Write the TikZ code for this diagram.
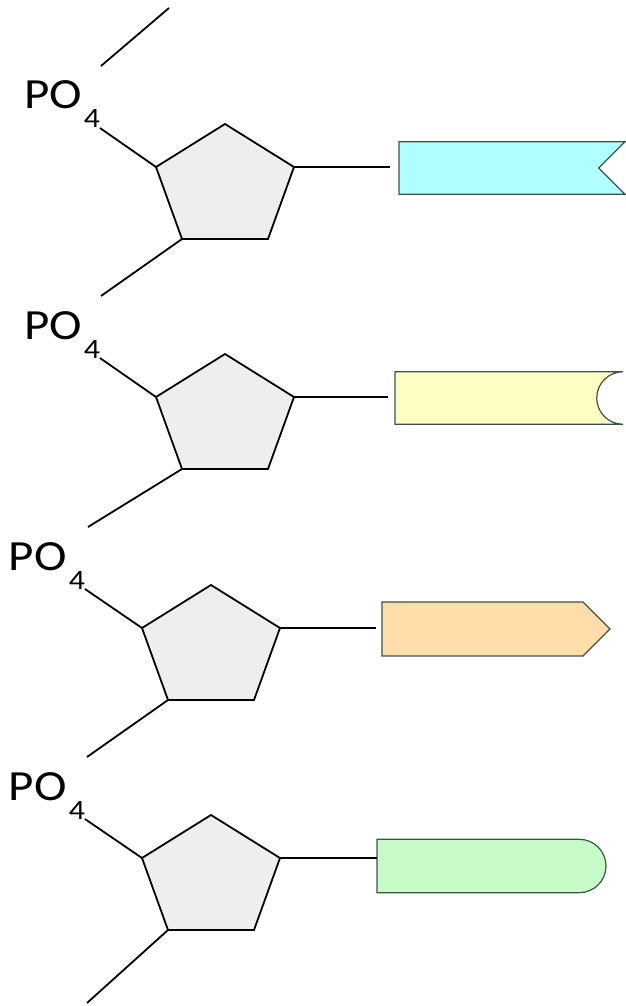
\documentclass[tikz,border=0pt]{standalone}
\usepackage{fontspec}
\setmainfont{Carlito}
\newfontfamily\phosfont[FakeStretch=1.14]{Carlito}
\usepackage{xcolor}
\usetikzlibrary{
	positioning,
	shapes.symbols,   %signal
	shapes.misc       %rounded rectangle
}
\definecolor{basedraw}{HTML}{3F5248}
\definecolor{cyanbase}{HTML}{B0FFFF}
\definecolor{yellowbase}{HTML}{FFFFC4}
\definecolor{orangebase}{HTML}{FFDDAA}
\definecolor{greenbase}{HTML}{C6FAC6}
\definecolor{sugargray}{HTML}{EEEEEE}
\tikzset{
	every picture/.style={x=1pt,y=-1pt},
	sugar/.style={draw=black,fill=sugargray,line width=1.8pt},
	bond/.style={draw=black,line width=1.8pt},
	base/.style={draw=basedraw,line width=1.2pt,inner sep=0pt,outer sep=0pt},
	phos/.style={inner sep=0pt,outer sep=0pt,anchor=base west,font=\phosfont\fontsize{43}{43}\selectfont}
}
\newcommand{\phostext}{PO\kern2pt\raisebox{-19pt}{\fontsize{28}{28}\selectfont 4}}

\begin{document}
\begin{tikzpicture}
	\useasboundingbox (0,0) rectangle (625,1006);
	\foreach \i/\x/\y in {1/225/124,2/225/354,3/211/585,4/211/815}{
		\coordinate (top\i) at (\x,\y);
		\coordinate (rt\i) at (\x+69,\y+43);
		\coordinate (br\i) at (\x+43,\y+115);
		\coordinate (bl\i) at (\x-43,\y+115);
		\coordinate (lt\i) at (\x-69,\y+43);
		\filldraw[sugar] (top\i) -- (rt\i) -- (br\i) -- (bl\i) -- (lt\i) -- cycle;
	}
	\node[phos] (po1) at (24,109) {\phostext};
	\node[phos] (po2) at (24,339) {\phostext};
	\node[phos] (po3) at (9,570) {\phostext};
	\node[phos] (po4) at (9,800) {\phostext};
	\node[base,signal,signal to=nowhere,signal from=east,fill=cyanbase,
		minimum width=226,minimum height=52.5,anchor=west] (b1) at (399,168) {};
	\node[base,rounded rectangle,rounded rectangle west arc=none,rounded rectangle east arc=concave,
		fill=yellowbase,minimum width=228,minimum height=52.5,anchor=west] (b2) at (395,398) {};
	\node[base,signal,signal to=east,fill=orangebase,
		minimum width=228,minimum height=54,anchor=west] (b3) at (382,629) {};
	\node[base,rounded rectangle,rounded rectangle west arc=none,fill=greenbase,
		minimum width=229,minimum height=53.4,anchor=west] (b4) at (377,866) {};
	\coordinate (up1) at (101,66);
	\coordinate (up0) at (169,8);
	\coordinate (end1) at (101,296);
	\coordinate (end2) at (88,527);
	\coordinate (end3) at (87,757);
	\coordinate (end4) at (87,1003);
	\draw[bond] (up1) -- (up0);
	\foreach \i in {1,2,3,4}{
		\draw[bond] (po\i.south east) -- (lt\i);
		\draw[bond] (bl\i) -- (end\i);
	}
	\draw[bond,shorten >=9pt] (rt1) -- (rt1 -| b1.west);
	\draw[bond,shorten >=7pt] (rt2) -- (rt2 -| b2.west);
	\draw[bond,shorten >=6pt] (rt3) -- (rt3 -| b3.west);
	\draw[bond] (rt4) -- (rt4 -| b4.west);
\end{tikzpicture}
\end{document}
